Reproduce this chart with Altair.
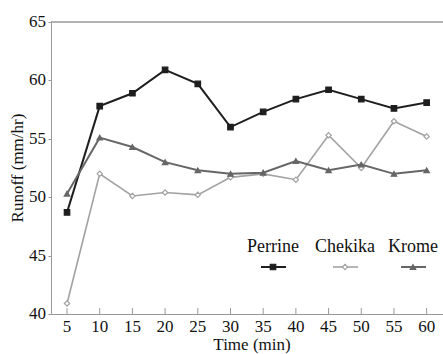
import altair as alt
import pandas as pd

time = [5, 10, 15, 20, 25, 30, 35, 40, 45, 50, 55, 60]
perrine = [48.7, 57.8, 58.9, 60.9, 59.7, 56.0, 57.3, 58.4, 59.2, 58.4, 57.6, 58.1]
chekika = [40.9, 52.0, 50.1, 50.4, 50.2, 51.7, 52.0, 51.5, 55.3, 52.5, 56.5, 55.2]
krome = [50.3, 55.1, 54.3, 53.0, 52.3, 52.0, 52.1, 53.1, 52.3, 52.8, 52.0, 52.3]
series_names = ["Perrine", "Chekika", "Krome"]
y_ticks = [40, 45, 50, 55, 60, 65]
x_title = "Time (min)"
y_title = "Runoff (mm/hr)"

W, H = 392, 292
FONT = "Liberation Serif"
TXT = "#111111"

styles = {
    "Perrine": dict(color="#1e1e1e", shape="square", fill="#1e1e1e", size=30, sw=2.0),
    "Chekika": dict(color="#a2a2a2", shape="diamond", fill="white", size=28, sw=1.6),
    "Krome": dict(color="#666666", shape="triangle-up", fill="#666666", size=30, sw=2.0),
}

rows = []
for name, vals in zip(series_names, [perrine, chekika, krome]):
    for t, v in zip(time, vals):
        rows.append({"series": name, "time": t, "runoff": v})
df = pd.DataFrame(rows)

xscale = alt.Scale(domain=[2.55, 62.5], nice=False, zero=False)
yscale = alt.Scale(domain=[40, 65], nice=False, zero=False)

xaxis = alt.Axis(values=time, title=None, ticks=False, labels=False, grid=False,
                 domainColor="#999999")
yaxis = alt.Axis(values=y_ticks, title=None, tickSize=3, labels=False, grid=False,
                 domainColor="#999999", tickColor="#999999")

layers = []
for i, name in enumerate(series_names):
    s = styles[name]
    sub = df[df.series == name]
    base = alt.Chart(sub).encode(
        x=alt.X("time:Q", scale=xscale, axis=xaxis),
        y=alt.Y("runoff:Q", scale=yscale, axis=yaxis),
    )
    layers.append(base.mark_line(color=s["color"], strokeWidth=s["sw"]))
    layers.append(base.mark_point(shape=s["shape"], size=s["size"], filled=True,
                                  fill=s["fill"], stroke=s["color"], strokeWidth=1.2, opacity=1))

# inward x ticks and x tick labels
tick_df = pd.DataFrame({"time": time})
layers.append(alt.Chart(tick_df).mark_rule(color="#999999", strokeWidth=1).encode(
    x=alt.X("time:Q", scale=xscale, axis=xaxis), y=alt.value(H), y2=alt.value(H - 6)))
layers.append(alt.Chart(tick_df).mark_text(font=FONT, fontSize=17, color=TXT, align="center",
                                           baseline="alphabetic").encode(
    x=alt.X("time:Q", scale=xscale, axis=xaxis), y=alt.value(H + 18), text="time:Q"))

# y tick labels
ytick_df = pd.DataFrame({"v": y_ticks})
layers.append(alt.Chart(ytick_df).mark_text(font=FONT, fontSize=17, color=TXT, align="right",
                                            baseline="middle").encode(
    y=alt.Y("v:Q", scale=yscale, axis=yaxis), x=alt.value(-5), text="v:Q"))

# axis titles
layers.append(alt.Chart(pd.DataFrame({"t": [x_title]})).mark_text(
    font=FONT, fontSize=17, color=TXT, align="center", baseline="alphabetic").encode(
    text="t:N", x=alt.value(W / 2 + 5), y=alt.value(H + 36)))
layers.append(alt.Chart(pd.DataFrame({"t": [y_title]})).mark_text(
    font=FONT, fontSize=17, color=TXT, align="center", baseline="middle", angle=270).encode(
    text="t:N", x=alt.value(-33), y=alt.value(H / 2)))

# top border line
layers.append(alt.Chart(pd.DataFrame({"a": [0]})).mark_rule(color="#999999", strokeWidth=1.5).encode(
    x=alt.value(0), x2=alt.value(W), y=alt.value(0)))

# custom legend: labels above short line samples
leg_cx = [222, 294, 362]
for name, cx in zip(series_names, leg_cx):
    s = styles[name]
    ldf = pd.DataFrame({"label": [name]})
    layers.append(alt.Chart(ldf).mark_text(font=FONT, fontSize=18, color=TXT, align="center",
                                           baseline="alphabetic").encode(
        text="label:N", x=alt.value(cx), y=alt.value(230)))
    layers.append(alt.Chart(ldf).mark_rule(color=s["color"], strokeWidth=s["sw"]).encode(
        x=alt.value(cx - 12), x2=alt.value(cx + 13), y=alt.value(245)))
    layers.append(alt.Chart(ldf).mark_point(shape=s["shape"], size=s["size"], filled=True,
                                            fill=s["fill"], stroke=s["color"], strokeWidth=1.2,
                                            opacity=1).encode(
        x=alt.value(cx), y=alt.value(245)))

chart = alt.layer(*layers).properties(
    width=W, height=H,
    autosize=alt.AutoSizeParams(type="none"),
    padding={"left": 51, "top": 22, "right": 0, "bottom": 40},
    background="white",
).configure_view(stroke=None)

chart.save("out.html", embed_options={"renderer": "svg", "actions": False})
